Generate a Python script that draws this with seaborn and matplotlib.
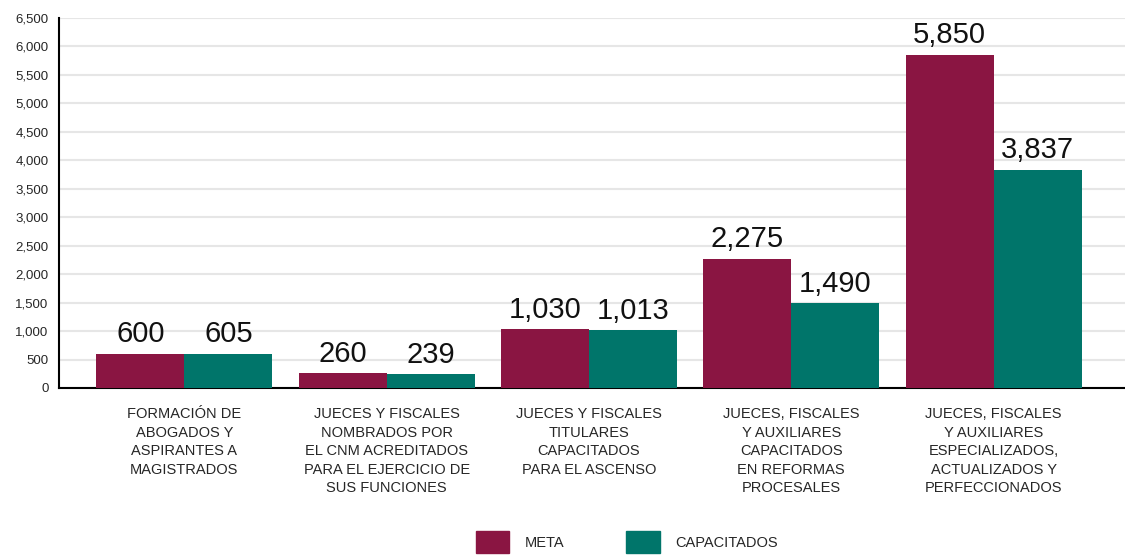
import matplotlib
matplotlib.use("Agg")
import matplotlib.pyplot as plt
import seaborn as sns
import pandas as pd

# datos del gráfico
categorias = [
    "FORMACIÓN DE\nABOGADOS Y\nASPIRANTES A\nMAGISTRADOS",
    "JUECES Y FISCALES\nNOMBRADOS POR\nEL CNM ACREDITADOS\nPARA EL EJERCICIO DE\nSUS FUNCIONES",
    "JUECES Y FISCALES\nTITULARES\nCAPACITADOS\nPARA EL ASCENSO",
    "JUECES, FISCALES\nY AUXILIARES\nCAPACITADOS\nEN REFORMAS\nPROCESALES",
    "JUECES, FISCALES\nY AUXILIARES\nESPECIALIZADOS,\nACTUALIZADOS Y\nPERFECCIONADOS",
]
meta = [600, 260, 1030, 2275, 5850]
capacitados = [605, 239, 1013, 1490, 3837]
series = ["META", "CAPACITADOS"]
colores = {"META": "#8A1542", "CAPACITADOS": "#00756A"}
yticks = list(range(0, 7000, 500))

df = pd.DataFrame({
    "categoria": categorias * 2,
    "serie": [series[0]] * 5 + [series[1]] * 5,
    "valor": meta + capacitados,
})

sns.set_style("white")
plt.rcParams["font.family"] = ["Liberation Sans", "DejaVu Sans"]

fig = plt.figure(figsize=(11.25, 5.55), dpi=100)
ax = fig.add_axes([59 / 1125, 1 - 388 / 555, 1 - 59 / 1125, 370 / 555])

sns.barplot(data=df, x="categoria", y="valor", hue="serie", palette=colores,
            width=0.87, gap=0, saturation=1, linewidth=0, ax=ax, zorder=3)

# cifras sobre las barras (letra estrecha)
for cont in ax.containers:
    ax.bar_label(cont, fmt="{:,.0f}", padding=4, fontsize=21,
                 family=["Liberation Sans", "DejaVu Sans"], color="#111111")

ax.set_ylim(0, 6500)
ax.set_xlim(-0.62, 4.65)
ax.set_yticks(yticks)
ax.set_yticklabels([f"{v:,}" for v in yticks], fontsize=9.5)
ax.yaxis.grid(True, color="#e6e6e6", linewidth=1.5, zorder=0)
ax.set_axisbelow(True)
ax.tick_params(axis="y", direction="inout", length=7, width=1.3, color="black", pad=4)
ax.tick_params(axis="x", length=0, pad=14, labelsize=10.5)
ax.set_xticklabels(categorias, linespacing=1.4, va="top")
for lbl in ax.get_xticklabels():
    lbl.set_multialignment("center")

for s in ["top", "right"]:
    ax.spines[s].set_visible(False)
ax.spines["left"].set_linewidth(1.5)
ax.spines["bottom"].set_linewidth(1.5)
ax.spines["left"].set_color("black")
ax.spines["bottom"].set_color("black")
ax.set_xlabel("")
ax.set_ylabel("")

ax.get_legend().remove()
handles = [plt.Rectangle((0, 0), 1, 1, color=colores[s]) for s in series]
fig.legend(handles, series, loc="center", bbox_to_anchor=(627 / 1125, 13 / 555),
           ncol=2, frameon=False, fontsize=10.5, handlelength=2.3, handleheight=1.95,
           handletextpad=1.1, columnspacing=4.2)

plt.savefig("out.png", dpi=100)
